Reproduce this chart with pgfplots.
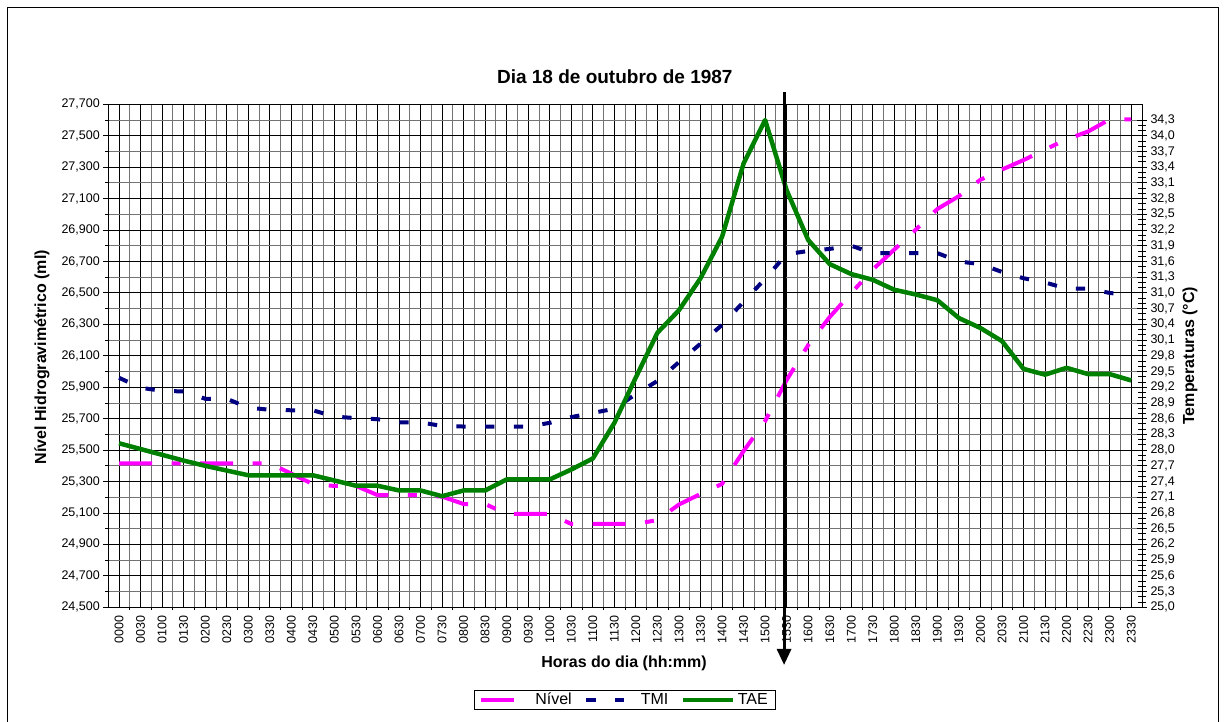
\documentclass[border=0pt]{standalone}
\usepackage{fontspec}
\setmainfont{Liberation Sans}
\usepackage{pgfplots}
\usepackage{pgfplotstable}
\pgfplotsset{compat=1.18}
\usetikzlibrary{arrows.meta}

\definecolor{nivel}{RGB}{255,0,255}
\definecolor{tmi}{RGB}{0,0,128}
\definecolor{tae}{RGB}{0,128,0}

% i = half-hour slot (0 = 00:00), nivel in ml, tmi/tae in deg C
\pgfplotstableread{
i nivel tmi tae
0 25416 29.38 28.13
1 25416 29.19 28.02
2 25416 29.13 27.91
3 25416 29.12 27.80
4 25416 28.98 27.70
5 25416 28.98 27.61
6 25416 28.81 27.52
7 25416 28.77 27.52
8 25350 28.76 27.52
9 25284 28.76 27.52
10 25272 28.64 27.42
11 25272 28.61 27.32
12 25214 28.59 27.32
13 25214 28.53 27.23
14 25214 28.53 27.23
15 25204 28.46 27.12
16 25157 28.45 27.23
17 25157 28.45 27.23
18 25094 28.45 27.44
19 25094 28.45 27.44
20 25094 28.52 27.44
21 25030 28.63 27.63
22 25030 28.71 27.84
23 25030 28.79 28.52
24 25030 29.07 29.39
25 25055 29.32 30.24
26 25154 29.68 30.67
27 25221 30.03 31.28
28 25285 30.39 32.07
29 25494 30.83 33.47
30 25685 31.27 34.30
31 25946 31.74 32.96
32 26168 31.80 32.01
33 26347 31.84 31.55
34 26499 31.90 31.36
35 26649 31.76 31.25
36 26776 31.76 31.06
37 26903 31.76 30.97
38 27034 31.76 30.86
39 27116 31.60 30.52
40 27220 31.55 30.33
41 27285 31.40 30.08
42 27345 31.28 29.55
43 27412 31.20 29.44
44 27477 31.08 29.57
45 27527 31.08 29.45
46 27604 31.00 29.45
47 27604 30.95 29.33
}\dados

\tikzset{rotulo/.style={font=\bfseries\fontsize{16}{19}\selectfont}}

\pgfplotsset{
  base/.style={
    at={(108.3pt,114.7pt)}, anchor=south west,
    scale only axis, width=1033.7pt, height=503pt,
    xmin=-0.5, xmax=47.5,
    axis line style={line width=0.9pt},
    tick style={black, line width=0.9pt},
    every tick label/.append style={font=\fontsize{12.5}{14}\selectfont},
    legend image code/.code={\draw[##1] (0pt,0pt) -- (50pt,0pt);},
  },
  nivelline/.style={color=nivel, line width=4pt, dash pattern=on 33pt off 19.5pt on 9pt off 19.5pt},
  tmiline/.style={color=tmi, line width=4pt, dash pattern=on 9.3pt off 19.4pt},
  taeline/.style={color=tae, line width=4.5pt, line join=round},
}

\begin{document}
\begin{tikzpicture}[x=1pt,y=1pt]
\useasboundingbox (0,0) rectangle (1225,722);
\draw[line width=0.8pt] (7,0) -- (7,715) -- (1218,715) -- (1218,0);

\begin{axis}[base,
  ymin=24500, ymax=27700,
  xtick={0,...,47},
  xticklabels={0000,0030,0100,0130,0200,0230,0300,0330,0400,0430,0500,0530,0600,0630,0700,0730,0800,0830,0900,0930,1000,1030,1100,1130,1200,1230,1300,1330,1400,1430,1500,1530,1600,1630,1700,1730,1800,1830,1900,1930,2000,2030,2100,2130,2200,2230,2300,2330},
  x tick label style={rotate=90, anchor=east},
  minor x tick num=1,
  ytick={24500,24700,...,27700},
  minor y tick num=1,
  scaled y ticks=false,
  yticklabel style={/pgf/number format/.cd, fixed, precision=0, 1000 sep={,}, assume math mode=true},
  grid=both,
  major grid style={black, line width=0.9pt},
  minor grid style={black!55, line width=0.9pt},
  tick pos=left,
  tick align=outside,
  major tick length=5pt, minor tick length=3pt,
  major x tick style={draw=none},
  title={Dia 18 de outubro de 1987},
  title style={at={(axis description cs:0.49,1.042)}, anchor=center, font=\bfseries\fontsize{19}{22}\selectfont},
  xlabel={Horas do dia (hh:mm)},
  xlabel style={at={(axis description cs:0.4989,-0.1107)}, anchor=center, rotulo},
  ylabel={Nível Hidrogravimétrico (ml)},
  ylabel style={at={(axis description cs:-0.0641,0.497)}, anchor=center, rotulo},
]
\addplot[nivelline] table[x=i, y=nivel] {\dados};
\end{axis}

\begin{axis}[base,
  axis x line=none,
  axis y line*=right,
  ymin=25, ymax=34.6,
  ytick={25,25.3,25.6,25.9,26.2,26.5,26.8,27.1,27.4,27.7,28,28.3,28.6,28.9,29.2,29.5,29.8,30.1,30.4,30.7,31,31.3,31.6,31.9,32.2,32.5,32.8,33.1,33.4,33.7,34,34.3},
  minor y tick num=2,
  yticklabel style={/pgf/number format/.cd, fixed, fixed zerofill, precision=1, use comma, assume math mode=true},
  tick align=center,
  major tick length=10pt, minor tick length=8pt,
  ylabel={Temperaturas (°C)},
  ylabel style={at={(axis description cs:1.0464,0.5)}, anchor=center, rotulo},
  clip=false,
  legend columns=-1,
  legend style={at={(axis description cs:0.4994,-0.1644)}, anchor=north, draw=black,
    font=\fontsize{16}{18}\selectfont, inner xsep=5pt, inner ysep=1pt,
    nodes={inner xsep=2.5pt},
    /tikz/every even column/.append style={column sep=10pt}},
]
\addlegendimage{nivelline}
\addlegendentry{Nível}
\addplot[tmiline] table[x=i, y=tmi] {\dados};
\addlegendentry{TMI}
\addplot[taeline] table[x=i, y=tae] {\dados};
\addlegendentry{TAE}
\draw[line width=3pt, -{Triangle[length=16pt, width=14pt]}] (axis cs:30.88,34.83) -- (axis cs:30.88,23.9);
\end{axis}
\end{tikzpicture}
\end{document}
